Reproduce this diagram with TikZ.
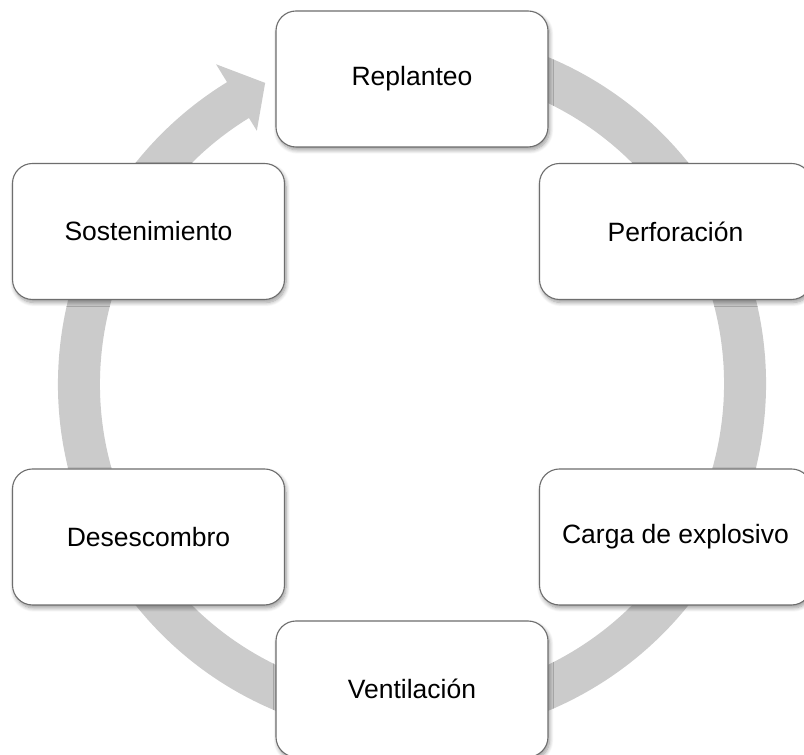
\documentclass[tikz,border=0pt]{standalone}
\usepackage{fontspec}
\setmainfont{Liberation Sans}
\usetikzlibrary{shadows.blur}
\definecolor{ringgray}{RGB}{203,203,203}
\definecolor{boxline}{RGB}{110,110,110}
\begin{document}
\begin{tikzpicture}[x=1pt,y=1pt,
  stage/.style={draw=boxline, line width=1.1pt, fill=white, rounded corners=20pt,
    minimum width=272pt, minimum height=136pt, inner sep=0pt, outer sep=0pt,
    font=\fontsize{26.5}{32}\selectfont,
    blur shadow={shadow xshift=1.5pt, shadow yshift=-3pt, shadow blur radius=4pt,
      shadow blur steps=8, shadow opacity=40}},
  ring/.style={draw=ringgray, line width=42pt}]
\useasboundingbox (0,0) rectangle (804,755);
\clip (0,0) rectangle (804,755);
\coordinate (c) at (412,371);
% circular flow band ending in an arrowhead at the top left
\draw[ring] ([shift={(80:333)}]c) arc[start angle=80, end angle=-239, radius=333];
\fill[ringgray] ([shift={(121.5:375)}]c) -- ([shift={(116:335)}]c)
  -- ([shift={(121.5:297)}]c) -- cycle;
% process stages
\node[stage] (rep) at (412,676) {Replanteo};
\node[stage] (per) at (675.5,523.5) {Perforación};
\node[stage] (car) at (675.5,218) {Carga de explosivo};
\node[stage] (ven) at (412,66) {Ventilación};
\node[stage] (des) at (148.5,218) {Desescombro};
\node[stage] (sos) at (148.5,523.5) {Sostenimiento};
\end{tikzpicture}
\end{document}
